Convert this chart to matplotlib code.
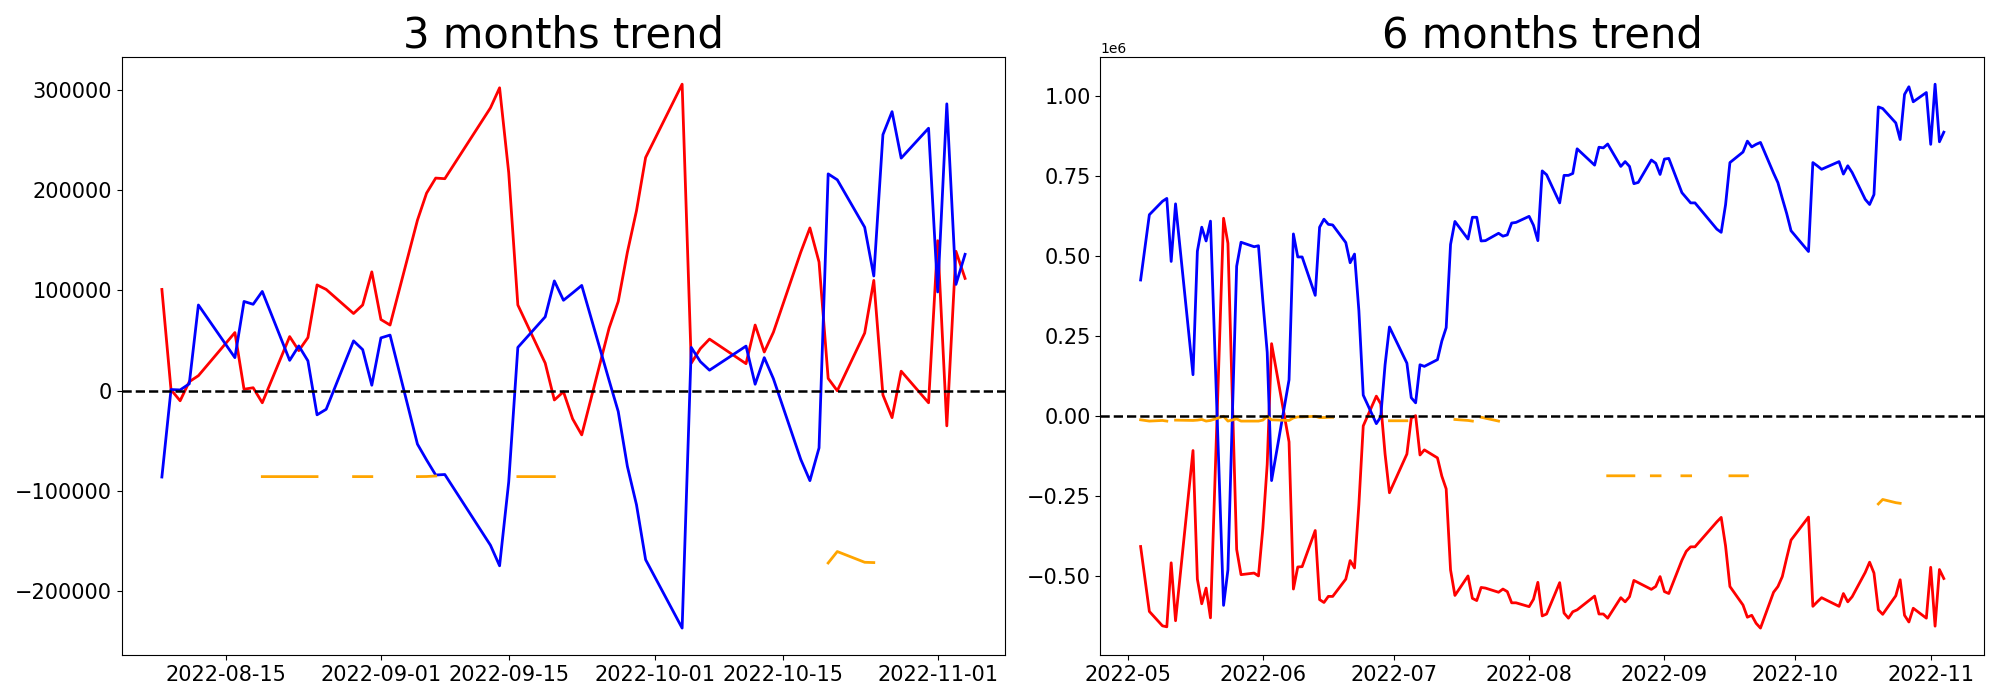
import numpy as np
import pandas as pd
import matplotlib
matplotlib.use('Agg')
import matplotlib.pyplot as plt

nan = np.nan

# trading days, last 6 months
dates_6m = [
    '2022-05-04', '2022-05-06', '2022-05-09', '2022-05-10', '2022-05-11', '2022-05-12',
    '2022-05-16', '2022-05-17', '2022-05-18', '2022-05-19', '2022-05-20', '2022-05-23',
    '2022-05-24', '2022-05-26', '2022-05-27', '2022-05-30', '2022-05-31',
    '2022-06-01', '2022-06-02', '2022-06-03', '2022-06-07', '2022-06-08', '2022-06-09',
    '2022-06-10', '2022-06-13', '2022-06-14', '2022-06-15', '2022-06-16', '2022-06-17',
    '2022-06-20', '2022-06-21', '2022-06-22', '2022-06-23', '2022-06-24', '2022-06-27',
    '2022-06-28', '2022-06-29', '2022-06-30',
    '2022-07-04', '2022-07-05', '2022-07-06', '2022-07-07', '2022-07-08', '2022-07-11',
    '2022-07-12', '2022-07-13', '2022-07-14', '2022-07-15', '2022-07-18', '2022-07-19',
    '2022-07-20', '2022-07-21', '2022-07-22', '2022-07-25', '2022-07-26', '2022-07-27',
    '2022-07-28', '2022-07-29',
    '2022-08-01', '2022-08-02', '2022-08-03', '2022-08-04', '2022-08-05', '2022-08-08',
    '2022-08-09', '2022-08-10', '2022-08-11', '2022-08-12', '2022-08-16', '2022-08-17',
    '2022-08-18', '2022-08-19', '2022-08-22', '2022-08-23', '2022-08-24', '2022-08-25',
    '2022-08-26', '2022-08-29', '2022-08-30', '2022-08-31',
    '2022-09-01', '2022-09-02', '2022-09-05', '2022-09-06', '2022-09-07', '2022-09-08',
    '2022-09-13', '2022-09-14', '2022-09-15', '2022-09-16', '2022-09-19', '2022-09-20',
    '2022-09-21', '2022-09-22', '2022-09-23', '2022-09-26', '2022-09-27', '2022-09-28',
    '2022-09-29', '2022-09-30',
    '2022-10-04', '2022-10-05', '2022-10-06', '2022-10-07', '2022-10-11', '2022-10-12',
    '2022-10-13', '2022-10-14', '2022-10-17', '2022-10-18', '2022-10-19', '2022-10-20',
    '2022-10-21', '2022-10-24', '2022-10-25', '2022-10-26', '2022-10-27', '2022-10-28',
    '2022-10-31',
    '2022-11-01', '2022-11-02', '2022-11-03', '2022-11-04',
]
dates_3m = dates_6m[dates_6m.index('2022-08-08'):]

# 3 months
red_3m = [101000, 1000, -10000, 9000, 15000, 58000, 1500, 3000, -12000, 54000,
          40000, 53000, 105500, 101000, 77000, 85500, 118500, 71000, 65500, 170000,
          197000, 212000, 211400, 282000, 302000, 217500, 85500, 27500, -9200, -1000,
          -28000, -44000, 62500, 89000, 138000, 179500, 232500, 305600, 27500, 42000,
          51500, 27000, 65500, 38600, 58300, 138200, 162300, 128300, 12300, 0,
          57500, 110000, -4200, -26800, 19500, -12000, 149600, -35000, 139000, 112000]
blue_3m = [-86000, 1200, 800, 6900, 85500, 33000, 89000, 86200, 99000, 30300,
           44700, 29800, -24000, -18500, 49700, 41000, 5500, 52700, 55500, -53200,
           -69000, -84000, -83500, -154000, -174500, -91000, 43200, 73700, 109500, 90200,
           97500, 105000, 10300, -20700, -75300, -113700, -168400, -236600, 43200, 29000,
           20500, 44500, 6500, 33000, 12000, -68500, -89600, -57000, 216200, 210300,
           163000, 114400, 255300, 278200, 231900, 261700, 98500, 286000, 106000, 136000]
orange_3m = [nan, nan, nan, nan, nan, nan, nan, nan, -85600, -85600,
             -85600, -85600, -85600, nan, -85600, -85600, -85600, nan, nan, -85600,
             -85500, -85000, nan, nan, nan, nan, -85600, -85600, -85600, nan,
             nan, nan, nan, nan, nan, nan, nan, nan, nan, nan,
             nan, nan, nan, nan, nan, nan, nan, nan, -171700, -160300,
             -171000, -171300, nan, nan, nan, nan, nan, nan, nan, nan]

# 6 months
blue_6m = [426000, 630000, 672000, 681000, 484000, 664000, 130000, 516000, 591000, 548000,
           610000, -591000, -480000, 469000, 544000, 530000, 533000,
           360000, 200000, -201000, 114000, 570000, 498000, 498000, 378000, 591000, 616000,
           600000, 598000, 543000, 480000, 507000, 330000, 66000, -23000, -2000, 161000,
           279000,
           166000, 58000, 42000, 161000, 156000, 177000, 235000, 277000, 537000, 609000,
           554000, 622000, 622000, 548000, 549000, 572000, 563000, 567000, 604000, 606000,
           625000, 597000, 549000, 767000, 755000, 667000, 753000, 753000, 759000, 836000,
           785000, 841000, 839000, 851000, 781000, 796000, 781000, 727000, 731000, 801000,
           791000, 756000,
           804000, 806000, 699000, 683000, 667000, 667000, 585000, 575000, 661000, 793000,
           826000, 860000, 842000, 850000, 856000, 760000, 730000, 681000, 634000, 580000,
           515000, 793000, 783000, 772000, 796000, 757000, 783000, 762000, 678000, 662000,
           693000, 967000, 962000, 917000, 865000, 1006000, 1030000, 983000, 1012000,
           850000, 1038000, 858000, 888000]
red_6m = [-407000, -610000, -655000, -658000, -458000, -639000, -107000, -509000, -586000, -537000,
          -630000, 619000, 541000, -416000, -495000, -490000, -499000,
          -350000, -150000, 227000, -80000, -540000, -471000, -470000, -357000, -573000, -582000,
          -563000, -563000, -509000, -451000, -474000, -276000, -30000, 63000, 39000, -118000,
          -239000,
          -118000, -6000, 2000, -121000, -105000, -130000, -187000, -227000, -480000, -560000,
          -499000, -569000, -576000, -535000, -537000, -550000, -540000, -548000, -583000, -583000,
          -595000, -572000, -519000, -624000, -618000, -520000, -615000, -631000, -611000, -605000,
          -562000, -618000, -618000, -631000, -567000, -580000, -564000, -513000, -520000, -541000,
          -532000, -501000,
          -548000, -554000, -450000, -422000, -408000, -408000, -330000, -316000, -405000, -532000,
          -590000, -628000, -622000, -647000, -662000, -550000, -532000, -501000, -443000, -387000,
          -315000, -594000, -580000, -567000, -594000, -554000, -580000, -564000, -488000, -456000,
          -490000, -605000, -619000, -561000, -511000, -622000, -643000, -600000, -631000,
          -472000, -656000, -479000, -507000]
orange_6m = [-11000, -15000, -13000, -15000, nan, -12000, -13000, -12000, -10000, -15000,
             -13000, 0, -15000, -8000, -15000, -15000, -15000,
             -12000, 0, -11000, -13000, -5000, -2000, -2000, 0, -4000, -4000,
             -3000, -3000, nan, nan, nan, nan, nan, nan, nan, nan,
             -14000,
             -14000, nan, nan, nan, nan, nan, nan, nan, nan, -10000,
             -13000, -15000, nan, -3000, -6000, -15000, nan, nan, nan, nan,
             nan, nan, nan, nan, nan, nan, nan, nan, nan, nan,
             nan, nan, nan, -186000, -186000, -186000, -186000, -186000, nan, -186000,
             -186000, -186000,
             nan, nan, -186000, -186000, -186000, nan, nan, nan, nan, -186000,
             -186000, -186000, nan, nan, nan, nan, nan, nan, nan, nan,
             nan, nan, nan, nan, nan, nan, nan, nan, nan, nan,
             nan, -274000, -260000, -270000, -272000, nan, nan, nan, nan,
             nan, nan, nan, nan]

x3 = pd.to_datetime(dates_3m)
x6 = pd.to_datetime(dates_6m)

fig, (ax1, ax2) = plt.subplots(1, 2, figsize=(20, 7), dpi=100)

ax1.plot(x3, red_3m, color='r', lw=2)
ax1.plot(x3, blue_3m, color='b', lw=2)
ax1.plot(x3, orange_3m, color='orange', lw=2)
ax1.axhline(0, color='black', linestyle='--', lw=1.8)
ax1.set_title('3 months trend', fontsize=30)
ax1.tick_params(labelsize=15)

ax2.plot(x6, red_6m, color='r', lw=2)
ax2.plot(x6, blue_6m, color='b', lw=2)
ax2.plot(x6, orange_6m, color='orange', lw=2)
ax2.axhline(0, color='black', linestyle='--', lw=1.8)
ax2.set_title('6 months trend', fontsize=30)
ax2.tick_params(labelsize=15)

plt.tight_layout()
plt.savefig('out.png')
